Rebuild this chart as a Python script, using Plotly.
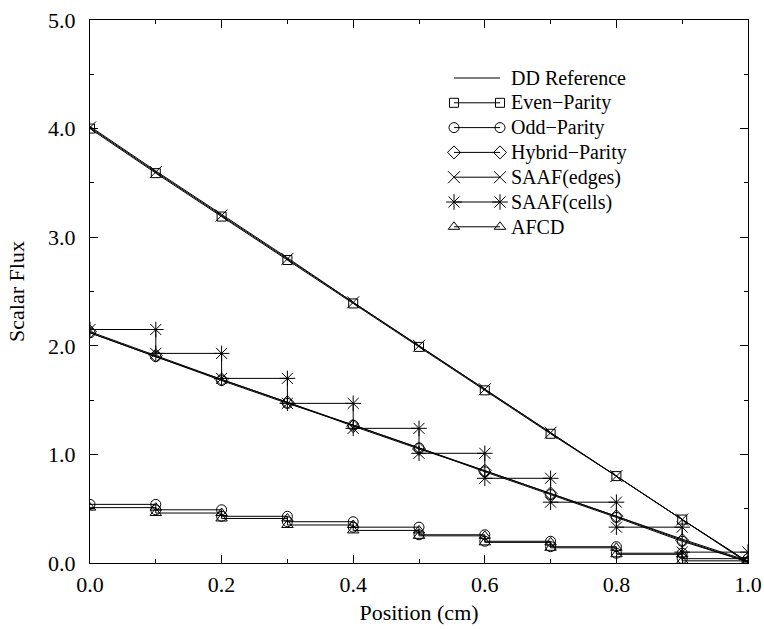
import plotly.graph_objects as go

# ---------------- data ----------------
x_nodes = [0.0, 0.1, 0.2, 0.3, 0.4, 0.5, 0.6, 0.7, 0.8, 0.9, 1.0]
cell_edges = [0.0, 0.1, 0.2, 0.3, 0.4, 0.5, 0.6, 0.7, 0.8, 0.9, 1.0]

# problem 1 (upper curves)
dd_ref_top = [4.02, 3.61, 3.21, 2.81, 2.40, 2.00, 1.60, 1.20, 0.80, 0.40, 0.01]
even_parity_top = [4.00, 3.59, 3.19, 2.79, 2.39, 1.99, 1.59, 1.19, 0.80, 0.40, 0.01]
saaf_edges_top = [4.01, 3.60, 3.20, 2.80, 2.40, 2.00, 1.60, 1.20, 0.80, 0.40, 0.00]

# problem 2 (middle curves)
dd_ref_mid = [2.12, 1.90, 1.69, 1.48, 1.27, 1.06, 0.85, 0.64, 0.43, 0.22, 0.02]
hybrid_parity_mid = [2.13, 1.91, 1.69, 1.48, 1.26, 1.05, 0.85, 0.64, 0.43, 0.21, 0.01]
odd_parity_mid = [2.12, 1.90, 1.68, 1.47, 1.27, 1.06, 0.84, 0.63, 0.42, 0.20, 0.01]
saaf_cells_mid = [2.15, 1.93, 1.70, 1.47, 1.24, 1.01, 0.78, 0.56, 0.33, 0.10]

# problem 3 (lower curves, cell values)
odd_parity_bot = [0.54, 0.49, 0.43, 0.38, 0.33, 0.26, 0.20, 0.15, 0.09, 0.04]
afcd_bot = [0.51, 0.46, 0.41, 0.35, 0.30, 0.25, 0.19, 0.14, 0.08, 0.02]

legend_labels = ["DD Reference", "Even\u2212Parity", "Odd\u2212Parity", "Hybrid\u2212Parity",
                 "SAAF(edges)", "SAAF(cells)", "AFCD"]

x_ticks = [0.0, 0.2, 0.4, 0.6, 0.8, 1.0]
y_ticks = [0.0, 1.0, 2.0, 3.0, 4.0, 5.0]

# ---------------- styles ----------------
FONT = "Liberation Serif, Times New Roman, serif"
BLACK = "#000000"
sym = {
    "Even\u2212Parity": ("square-open", 9),
    "Odd\u2212Parity": ("circle-open", 10),
    "Hybrid\u2212Parity": ("diamond-open", 10),
    "SAAF(edges)": ("x-thin-open", 12),
    "SAAF(cells)": ("asterisk-open", 13),
    "AFCD": ("triangle-up-open", 10),
}


def steps(cells):
    xs, ys = [], []
    for i, v in enumerate(cells):
        xs += [cell_edges[i], cell_edges[i + 1]]
        ys += [v, v]
    return xs, ys


def mk(name):
    s, size = sym[name]
    return dict(symbol=s, size=size, color=BLACK, line=dict(color=BLACK, width=1))


fig = go.Figure()


def add(x, y, name=None, mode="lines+markers", width=1.0):
    tr = dict(x=x, y=y, mode=mode, showlegend=False, hoverinfo="skip",
              line=dict(color=BLACK, width=width))
    if name is not None and "markers" in mode:
        tr["marker"] = mk(name)
    fig.add_trace(go.Scatter(**tr))


# reference lines
add(x_nodes, dd_ref_top, mode="lines")
add(x_nodes, dd_ref_mid, mode="lines")
# upper
add(x_nodes, even_parity_top, "Even\u2212Parity")
add(x_nodes, saaf_edges_top, "SAAF(edges)")
# middle
add(x_nodes, hybrid_parity_mid, "Hybrid\u2212Parity")
add(x_nodes, odd_parity_mid, "Odd\u2212Parity")
sx, sy = steps(saaf_cells_mid)
add(sx, sy, "SAAF(cells)")
# lower
sx, sy = steps(odd_parity_bot)
add(sx, sy, "Odd\u2212Parity")
sx, sy = steps(afcd_bot)
add(sx, sy, "AFCD")

# ---------------- custom legend (overlay axes in pixel units) ----------------
L_X0, L_X1, L_TX = 454, 500, 509
L_Y0, L_DY = 78, 24.8
for i, lab in enumerate(legend_labels):
    yy = L_Y0 + i * L_DY
    if lab == "DD Reference":
        fig.add_trace(go.Scatter(x=[L_X0, L_X1], y=[yy, yy], mode="lines", xaxis="x2", yaxis="y2",
                                 showlegend=False, hoverinfo="skip",
                                 line=dict(color=BLACK, width=1)))
    else:
        fig.add_trace(go.Scatter(x=[L_X0, L_X1], y=[yy, yy], mode="lines+markers", xaxis="x2",
                                 yaxis="y2", showlegend=False, hoverinfo="skip",
                                 line=dict(color=BLACK, width=1), marker=mk(lab)))
    fig.add_annotation(x=L_TX, y=yy, xref="x2", yref="y2", text=lab, showarrow=False,
                       xanchor="left", yanchor="middle",
                       font=dict(family=FONT, size=20, color=BLACK))

axis_common = dict(
    showgrid=False, zeroline=False, showline=True, linecolor=BLACK, linewidth=1.3,
    mirror="allticks", ticks="inside", ticklen=8, tickwidth=1, tickcolor=BLACK,
    tickfont=dict(family=FONT, size=22, color=BLACK), tickformat=".1f",
    automargin=False,
)

fig.update_layout(
    width=764, height=629,
    margin=dict(l=90, r=16, t=20, b=66),
    paper_bgcolor="white", plot_bgcolor="white",
    xaxis=dict(range=[0, 1], tickvals=x_ticks,
               minor=dict(dtick=0.1, ticks="inside", ticklen=4, tickcolor=BLACK),
               title=dict(text="Position (cm)", font=dict(family=FONT, size=22, color=BLACK),
                          standoff=9),
               ticklabelstandoff=1, **axis_common),
    yaxis=dict(range=[0, 5], tickvals=y_ticks,
               minor=dict(dtick=0.5, ticks="inside", ticklen=4, tickcolor=BLACK),
               title=dict(text="Scalar Flux", font=dict(family=FONT, size=22, color=BLACK),
                          standoff=17),
               ticklabelstandoff=9, **axis_common),
    xaxis2=dict(overlaying="x", range=[90, 748], visible=False),
    yaxis2=dict(overlaying="y", range=[563, 20], visible=False),
)

fig.write_html("out.html")
